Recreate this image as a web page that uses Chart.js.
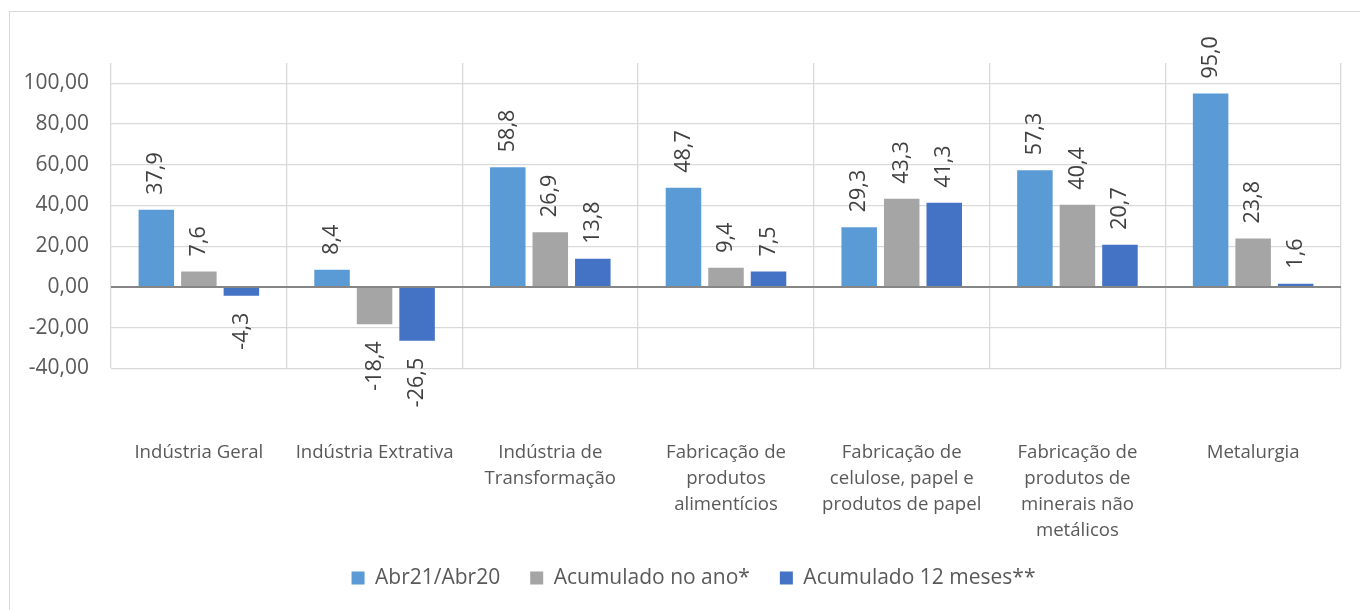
<!DOCTYPE html>
<html>
<head>
<meta charset="utf-8">
<script src="https://cdn.jsdelivr.net/npm/chart.js@4.4.1/dist/chart.umd.min.js"></script>
<style>
  html, body { margin: 0; padding: 0; background: #ffffff; overflow: hidden; width: 1360px; height: 610px; }
  #frame { position: absolute; left: 9px; top: 11px; width: 1420px; height: 700px; border: 1px solid #D9D9D9; box-sizing: border-box; }
  #c { position: absolute; left: 0; top: 0; }
</style>
</head>
<body>
<div id="frame"></div>
<canvas id="c" width="1360" height="610"></canvas>
<script>
const categories = [
  "Indústria Geral",
  "Indústria Extrativa",
  ["Indústria de", "Transformação"],
  ["Fabricação de", "produtos", "alimentícios"],
  ["Fabricação de", "celulose, papel e", "produtos de papel"],
  ["Fabricação de", "produtos de", "minerais não", "metálicos"],
  "Metalurgia"
];
const seriesNames = ["Abr21/Abr20", "Acumulado no ano*", "Acumulado 12 meses**"];
const abr21Abr20   = [37.9, 8.4, 58.8, 48.7, 29.3, 57.3, 95.0];
const acumuladoAno = [7.6, -18.4, 26.9, 9.4, 43.3, 40.4, 23.8];
const acumulado12m = [-4.3, -26.5, 13.8, 7.5, 41.3, 20.7, 1.6];
const yTickValues  = [-40, -20, 0, 20, 40, 60, 80, 100];
const seriesColors = ["#5B9BD5", "#A5A5A5", "#4472C4"];

const FONT = "'Open Sans', 'DejaVu Sans', sans-serif";
Chart.defaults.font.family = FONT;
Chart.defaults.color = "#595959";

const fmt = (v, d) => v.toFixed(d).replace(".", ",");

const valueLabels = {
  id: "valueLabels",
  afterDatasetsDraw(chart) {
    const ctx = chart.ctx;
    ctx.save();
    ctx.font = "21.5px " + FONT;
    ctx.fillStyle = "#404040";
    ctx.textBaseline = "middle";
    chart.data.datasets.forEach((ds, i) => {
      const meta = chart.getDatasetMeta(i);
      meta.data.forEach((el, j) => {
        const v = ds.data[j];
        const txt = fmt(v, 1);
        ctx.save();
        if (v >= 0) {
          ctx.translate(el.x, el.y - 15);
          ctx.rotate(-Math.PI / 2);
          ctx.textAlign = "left";
        } else {
          ctx.translate(el.x, el.y + 17);
          ctx.rotate(-Math.PI / 2);
          ctx.textAlign = "right";
        }
        ctx.fillText(txt, 0, 0);
        ctx.restore();
      });
    });
    ctx.restore();
  }
};

// shift the bottom legend so it is centred like the reference
const legendShift = {
  id: "legendShift",
  afterLayout(chart) {
    if (chart.legend) {
      chart.legend.left += 18;
      chart.legend.right += 18;
    }
  }
};

const datasets = [abr21Abr20, acumuladoAno, acumulado12m].map((d, i) => ({
  label: seriesNames[i],
  data: d,
  backgroundColor: seriesColors[i],
  borderColor: seriesColors[i],
  borderWidth: 0,
  categoryPercentage: 0.726,
  barPercentage: 0.835
}));

new Chart(document.getElementById("c"), {
  type: "bar",
  data: { labels: categories, datasets },
  plugins: [valueLabels, legendShift],
  options: {
    responsive: false,
    animation: false,
    devicePixelRatio: 1,
    layout: { padding: { left: 10, right: 19, top: 63, bottom: 11.5 } },
    plugins: {
      tooltip: { enabled: false },
      legend: {
        position: "bottom",
        labels: {
          boxWidth: 13,
          boxHeight: 13,
          padding: 30,
          color: "#595959",
          font: { size: 21 }
        }
      }
    },
    scales: {
      x: {
        grid: {
          display: true, offset: true, color: "#D9D9D9", lineWidth: 1.3,
          drawTicks: true, tickLength: 71, tickColor: "rgba(0,0,0,0)"
        },
        border: { display: false },
        ticks: {
          autoSkip: false, maxRotation: 0, minRotation: 0,
          padding: 0,
          color: "#595959",
          font: { size: 18.6, lineHeight: 1.4 }
        },
        afterFit(scale) { scale.height = 169.2; }
      },
      y: {
        min: -40,
        max: 110,
        grid: {
          color: (c) => (c.tick && c.tick.value === 0 ? "#868686" : "#D9D9D9"),
          lineWidth: (c) => (c.tick && c.tick.value === 0 ? 2 : 1.3),
          drawTicks: false
        },
        border: { display: false },
        afterBuildTicks(scale) { scale.ticks = yTickValues.map(v => ({ value: v })); },
        ticks: {
          padding: 22,
          color: "#595959",
          font: { size: 21 },
          callback: (v) => fmt(Number(v), 2)
        },
        afterFit(scale) { scale.width = 101; }
      }
    }
  }
});
</script>
</body>
</html>
